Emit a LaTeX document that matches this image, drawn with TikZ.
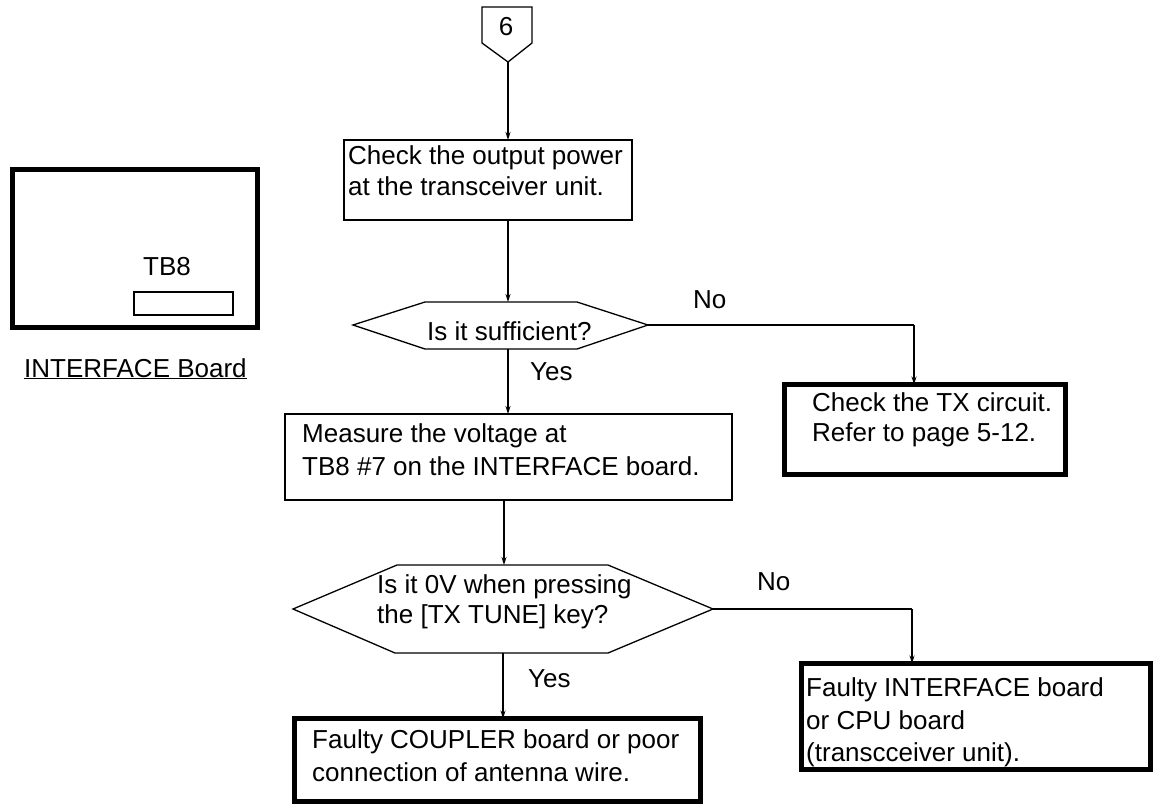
\documentclass[tikz,border=0pt]{standalone}
\usepackage{fontspec}
\setmainfont{Liberation Sans}
\usetikzlibrary{arrows.meta}
\begin{document}
\begin{tikzpicture}[x=1pt,y=-1pt,
  txt/.style={font=\fontsize{26}{31}\selectfont, inner sep=0pt, anchor=base west},
  lbox/.style={draw, line width=1.3pt, inner sep=0pt, outer sep=0pt, anchor=north west},
  hbox/.style={draw, line width=5pt, inner sep=0pt, outer sep=0pt, anchor=north west},
  ln/.style={line width=1.3pt},
  arr/.style={line width=1.3pt, -{Stealth[length=8pt,width=5pt]}}]
\useasboundingbox (0,0) rectangle (1155,806);
% connector 6
\draw[ln] (482,7) -- (532,7) -- (532,43) -- (508,62) -- (482,43) -- cycle;
\coordinate (p6) at (508,62);
\node[txt, anchor=base] (n6) at (506,35) {6};
% interface board
\node[hbox, minimum width=245pt, minimum height=158pt] (board) at (12.5,169.5) {};
\node[lbox, minimum width=99pt, minimum height=23pt] (tb) at (134,292) {};
\node[txt] (tbl) at (143,275) {TB8};
\node[txt] (bl) at (24,377) {\underline{INTERFACE Board}};
% box 1
\node[lbox, minimum width=288pt, minimum height=80pt] (b1) at (344,140) {};
\node[txt] (b1a) at (348,164) {Check the output power};
\node[txt] (b1b) at (348,195) {at the transceiver unit.};
% hex 1
\coordinate (h1l) at (353,325);
\coordinate (h1r) at (648,325);
\coordinate (h1t) at (508,302);
\coordinate (h1b) at (508,349);
\draw[ln] (h1l) -- (425,302) -- (577,302) -- (h1r) -- (577,349) -- (425,349) -- cycle;
\node[txt] (h1x) at (427,340) {Is it sufficient?};
\node[txt] (no1) at (693,308) {No};
\node[txt] (yes1) at (530,380) {Yes};
% TX box
\node[hbox, minimum width=281pt, minimum height=90pt] (tx) at (784.5,384.5) {};
\node[txt] (txa) at (812,411) {Check the TX circuit.};
\node[txt] (txb) at (812,441) {Refer to page 5-12.};
% box 2
\node[lbox, minimum width=447pt, minimum height=86pt] (b2) at (285,414) {};
\node[txt] (b2a) at (302,442) {Measure the voltage at};
\node[txt] (b2b) at (302,475) {TB8 \#7 on the INTERFACE board.};
% hex 2
\coordinate (h2l) at (293,609);
\coordinate (h2r) at (713,609);
\coordinate (h2t) at (504,565);
\coordinate (h2b) at (503,653);
\draw[ln] (h2l) -- (397,565) -- (608,565) -- (h2r) -- (608,653) -- (395,653) -- cycle;
\node[txt] (h2a) at (377,593) {Is it 0V when pressing};
\node[txt] (h2b1) at (377,623) {the [TX TUNE] key?};
\node[txt] (no2) at (757,590) {No};
\node[txt] (yes2) at (528,687) {Yes};
% box 3
\node[hbox, minimum width=349pt, minimum height=106pt] (b3) at (801.5,663.5) {};
\node[txt] (b3a) at (806,696) {Faulty INTERFACE board};
\node[txt] (b3b) at (806,729) {or CPU board};
\node[txt] (b3c) at (806,761) {(transcceiver unit).};
% box 4
\node[hbox, minimum width=406pt, minimum height=83pt] (b4) at (294.5,718.5) {};
\node[txt] (b4a) at (312,748) {Faulty COUPLER board or poor};
\node[txt] (b4b) at (312,781) {connection of antenna wire.};
% connectors
\draw[arr] (p6) -- (p6 |- b1.north);
\draw[arr] (b1.south -| p6) -- (h1t);
\draw[ln] (h1r) -- (914,325) coordinate (c1);
\draw[arr] (c1) -- (c1 |- tx.north);
\draw[arr] (h1b) -- (h1b |- b2.north);
\draw[arr] (b2.south -| h2t) -- (h2t);
\draw[ln] (h2r) -- (912,609) coordinate (c2);
\draw[arr] (c2) -- (c2 |- b3.north);
\draw[arr] (h2b) -- (h2b |- b4.north);
\end{tikzpicture}
\end{document}
